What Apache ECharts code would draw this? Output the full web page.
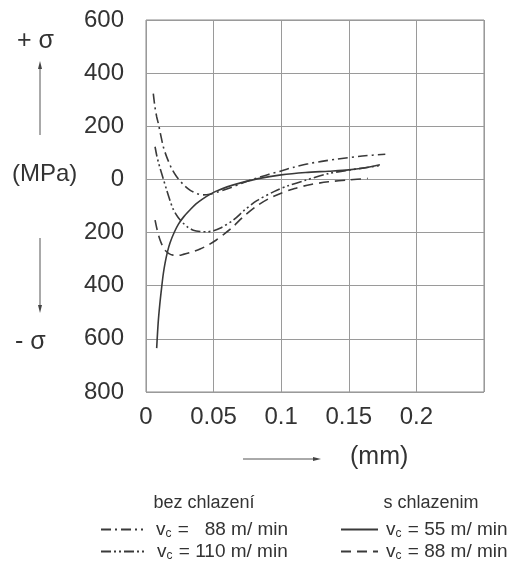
<!DOCTYPE html>
<html>
<head>
<meta charset="utf-8">
<script src="https://cdn.jsdelivr.net/npm/echarts@6/dist/echarts.min.js"></script>
<style>
html,body{margin:0;padding:0;background:#fff;}
#c{width:521px;height:566px;}
</style>
</head>
<body>
<div id="c"></div>
<script>
// x in mm, y in MPa (positive = tension, negative = compression)
var xTicks = ['0', '0.05', '0.1', '0.15', '0.2', ''];
var yTickAbs = [600, 400, 200, 0, 200, 400, 600, 800];

// bez chlazení, vc = 88 m/min (dash-dot)
var bez88 = [[0.0054,323],[0.0066,273],[0.0079,236],[0.0091,211],[0.0109,167],[0.0128,123],[0.0153,85],[0.0190,41],[0.0227,10],[0.0276,-19],[0.0325,-40],[0.0375,-53],[0.042,-58],[0.047,-56],[0.055,-44],[0.063,-30],[0.07,-16],[0.077,-3],[0.083,7],[0.09,18],[0.1,32],[0.11,47],[0.12,59],[0.13,68],[0.142,77],[0.16,88],[0.177,95]];
// bez chlazení, vc = 110 m/min (dash-dot-dot)
var bez110 = [[0.0067,123],[0.0079,91],[0.0091,66],[0.0104,42],[0.0128,2],[0.0153,-40],[0.0178,-80],[0.0202,-113],[0.0238,-143],[0.0276,-165],[0.031,-180],[0.035,-191],[0.040,-196],[0.045,-197],[0.050,-193],[0.0547,-184],[0.0646,-153],[0.073,-115],[0.082,-80],[0.095,-45],[0.105,-24],[0.118,-3],[0.135,22],[0.15,35],[0.162,44],[0.173,52]];
// s chlazením, vc = 55 m/min (solid)
var s55 = [[0.0079,-635],[0.0090,-540],[0.0102,-470],[0.0116,-405],[0.0128,-355],[0.0141,-315],[0.016,-270],[0.0178,-238],[0.021,-198],[0.024,-168],[0.028,-140],[0.0325,-115],[0.037,-92],[0.042,-73],[0.047,-57],[0.052,-44],[0.06,-28],[0.07,-13],[0.083,3],[0.1,17],[0.118,26],[0.135,31],[0.15,36],[0.16,42],[0.173,55]];
// s chlazením, vc = 88 m/min (dashed)
var s88 = [[0.0067,-153],[0.0085,-195],[0.0104,-228],[0.0122,-250],[0.014,-266],[0.017,-279],[0.020,-285],[0.024,-286],[0.0276,-282],[0.034,-273],[0.040,-262],[0.046,-247],[0.052,-228],[0.058,-205],[0.064,-180],[0.072,-140],[0.083,-96],[0.095,-62],[0.110,-34],[0.122,-19],[0.135,-9],[0.150,-2],[0.164,4]];

var legendText = {
  'bez88': '{pl|v}{s|c}{a| =   88 m/ min}',
  'bez110': '{pl|v}{s|c}{a| = 110 m/ min}',
  's55': '{pr|v}{s|c}{a| = 55 m/ min}',
  's88': '{pr|v}{s|c}{a| = 88 m/ min}'
};

var FONT = 'Liberation Sans, Arial, sans-serif';
var LC = '#3a3a3a';
var rich = {
  a: {fontSize: 19, color: '#333', fontFamily: FONT},
  pl: {fontSize: 19, color: '#333', fontFamily: FONT, padding: [0, 0, 0, 8]},
  pr: {fontSize: 19, color: '#333', fontFamily: FONT, padding: [0, 0, 0, 3]},
  s: {fontSize: 12, color: '#333', fontFamily: FONT, padding: [8, 1, 0, 0]}
};

function mkLegend(name, left, top, w) {
  return {
    data: [name], left: left, top: top, padding: 0, itemWidth: w, itemHeight: 12,
    itemGap: 0, formatter: function (n) { return legendText[n]; },
    itemStyle: {opacity: 0},
    textStyle: {rich: rich, fontFamily: FONT, fontSize: 19}, selectedMode: false
  };
}

function mkSeries(name, data, type) {
  return {
    name: name, type: 'line', data: data, smooth: 0.3, symbol: 'none',
    lineStyle: {color: LC, width: 1.6, type: type}, itemStyle: {color: LC}
  };
}

var chart = echarts.init(document.getElementById('c'));
chart.setOption({
  animation: false,
  backgroundColor: '#fff',
  grid: {left: 146, right: 37, top: 20, bottom: 174, show: true, borderColor: '#8a8a8a', borderWidth: 1},
  xAxis: {
    type: 'value', min: 0, max: 0.25, interval: 0.05,
    axisLine: {show: false}, axisTick: {show: false},
    splitLine: {show: true, lineStyle: {color: '#9a9a9a', width: 1}},
    axisLabel: {
      fontSize: 24, color: '#333', fontFamily: FONT, margin: 13,
      formatter: function (v) { return xTicks[Math.round(v / 0.05)]; }
    }
  },
  yAxis: {
    type: 'value', min: -800, max: 600, interval: 200,
    axisLine: {show: false}, axisTick: {show: false},
    splitLine: {show: true, lineStyle: {color: '#9a9a9a', width: 1}},
    axisLabel: {
      fontSize: 24, color: '#333', fontFamily: FONT, margin: 22,
      formatter: function (v) { return String(yTickAbs[Math.round((600 - v) / 200)]); }
    }
  },
  legend: [
    mkLegend('bez88', 100, 520, 42),
    mkLegend('bez110', 100, 542, 43),
    mkLegend('s55', 340, 520, 37),
    mkLegend('s88', 340, 542, 37)
  ],
  series: [
    mkSeries('bez88', bez88, [10, 4, 2, 4]),
    mkSeries('bez110', bez110, [10, 3, 2, 3, 2, 3]),
    mkSeries('s55', s55, 'solid'),
    mkSeries('s88', s88, [10, 6])
  ],
  graphic: [
    {type: 'text', left: 17, top: 29, style: {text: '+ σ', fontSize: 25, fill: '#333', fontFamily: FONT}},
    {type: 'line', shape: {x1: 40, y1: 135, x2: 40, y2: 66}, style: {stroke: '#555', lineWidth: 1}},
    {type: 'polygon', shape: {points: [[40, 61], [38, 69], [42, 69]]}, style: {fill: '#444'}},
    {type: 'text', left: 12, top: 162, style: {text: '(MPa)', fontSize: 24, fill: '#333', fontFamily: FONT}},
    {type: 'line', shape: {x1: 40, y1: 238, x2: 40, y2: 308}, style: {stroke: '#555', lineWidth: 1}},
    {type: 'polygon', shape: {points: [[40, 313], [38, 305], [42, 305]]}, style: {fill: '#444'}},
    {type: 'text', left: 15, top: 330, style: {text: '- σ', fontSize: 25, fill: '#333', fontFamily: FONT}},
    {type: 'line', shape: {x1: 243, y1: 459, x2: 315, y2: 459}, style: {stroke: '#555', lineWidth: 1}},
    {type: 'polygon', shape: {points: [[321, 459], [313, 457], [313, 461]]}, style: {fill: '#444'}},
    {type: 'text', left: 350, top: 445, style: {text: '(mm)', fontSize: 25, fill: '#333', fontFamily: FONT}},
    {type: 'text', x: 204, y: 503, style: {text: 'bez chlazení', fontSize: 18, fill: '#333', fontFamily: FONT, align: 'center', verticalAlign: 'middle'}},
    {type: 'text', x: 431, y: 503, style: {text: 's chlazenim', fontSize: 18, fill: '#333', fontFamily: FONT, align: 'center', verticalAlign: 'middle'}}
  ]
});
</script>
</body>
</html>
